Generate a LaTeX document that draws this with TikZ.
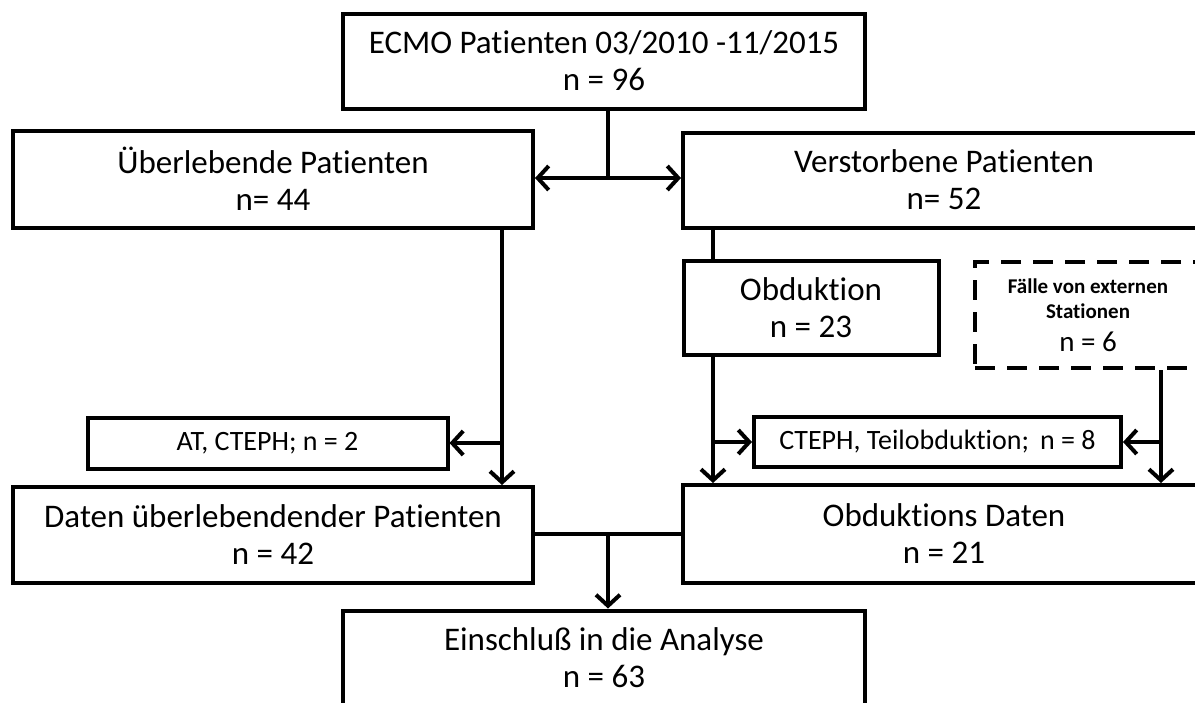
\documentclass[tikz,border=0pt]{standalone}
\usepackage{fontspec}
\setmainfont{Carlito}[Ligatures=NoCommon]
\usetikzlibrary{arrows.meta}

\tikzset{
  box/.style={draw, line width=4pt, inner sep=0pt, align=center,
    font=\fontsize{33}{37}\selectfont},
  smallbox/.style={box, font=\fontsize{28}{32}\selectfont},
  extbox/.style={box, dashed, dash pattern=on 20pt off 12pt,
    font=\fontsize{21}{25}\selectfont\bfseries},
  link/.style={line width=4pt},
  arrow/.style={link, -{Straight Barb[length=11pt,width=24pt]}}
}

\begin{document}
\begin{tikzpicture}[x=1pt,y=-1pt]
\useasboundingbox (0,0) rectangle (1195,702);
\clip (0,0) rectangle (1195,702);

% boxes
\node[box, minimum width=522pt, minimum height=95pt] (top) at (604,61)
  {ECMO Patienten 03/2010 -11/2015\\n = 96};
\node[box, minimum width=520pt, minimum height=97pt] (surv) at (273,179)
  {Überlebende Patienten\\n= 44};
\node[box, minimum width=522pt, minimum height=95pt] (dead) at (944,180)
  {Verstorbene Patienten\\n= 52};
\node[box, minimum width=255pt, minimum height=94pt] (obd) at (811,308)
  {Obduktion\\n = 23};
\node[extbox, minimum width=226pt, minimum height=106pt] (ext) at (1088,315)
  {Fälle von externen\\Stationen\\[8pt]
   \fontsize{29}{33}\selectfont\mdseries n = 6};
\node[smallbox, minimum width=360pt, minimum height=51pt] (at) at (267.5,443)
  {AT, CTEPH; n = 2};
\node[smallbox, minimum width=367pt, minimum height=50pt] (cteph) at (937.5,442)
  {CTEPH, Teilobduktion;\, n = 8};
\node[box, minimum width=520pt, minimum height=96pt] (datS) at (273,535)
  {Daten überlebendender Patienten\\n = 42};
\node[box, minimum width=522pt, minimum height=98pt] (datO) at (944,534)
  {Obduktions Daten\\n = 21};
\node[box, minimum width=522pt, minimum height=95pt] (incl) at (604,658)
  {Einschluß in die Analyse\\n = 63};

% junction points and column lines
\coordinate (j1) at (608,178);
\coordinate (lx) at (502,0);
\coordinate (rx) at (713,0);
\coordinate (ex) at (1161,0);
\coordinate (j2) at (608,534);

% split after the first box
\draw[link] (top.south -| j1) -- (j1);
\draw[arrow] (j1) -- (surv.east |- j1);
\draw[arrow] (j1) -- (dead.west |- j1);

% surviving patients
\draw[arrow] (surv.south -| lx) -- (datS.north -| lx);
\draw[arrow] (at.east -| lx) -- (at.east);

% deceased patients
\draw[link] (dead.south -| rx) -- (obd.north -| rx);
\draw[arrow] (obd.south -| rx) -- (datO.north -| rx);
\draw[arrow] (cteph.west -| rx) -- (cteph.west);

% external cases
\draw[arrow] (ext.south -| ex) -- (datO.north -| ex);
\draw[arrow] (cteph.east -| ex) -- (cteph.east);

% merge into the analysis
\draw[link] (datS.east |- j2) -- (datO.west |- j2);
\draw[arrow] (j2) -- (incl.north -| j2);
\end{tikzpicture}
\end{document}
